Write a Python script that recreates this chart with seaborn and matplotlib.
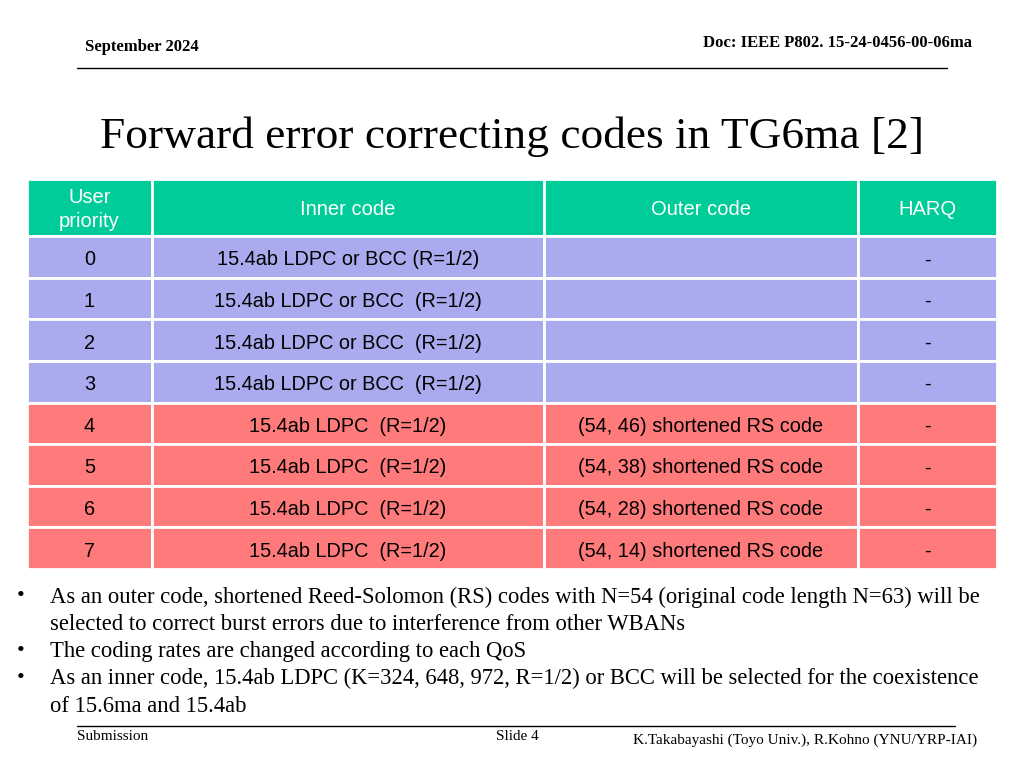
import matplotlib
matplotlib.use("Agg")
import matplotlib.pyplot as plt
import seaborn as sns

# Table data
header = ["User\npriority", "Inner code", "Outer code", "HARQ"]
priorities = ["0", "1", "2", "3", "4", "5", "6", "7"]
inner_codes = ["15.4ab LDPC or BCC (R=1/2)", "15.4ab LDPC or BCC  (R=1/2)",
               "15.4ab LDPC or BCC  (R=1/2)", "15.4ab LDPC or BCC  (R=1/2)",
               "15.4ab LDPC  (R=1/2)", "15.4ab LDPC  (R=1/2)",
               "15.4ab LDPC  (R=1/2)", "15.4ab LDPC  (R=1/2)"]
outer_codes = ["", "", "", "",
               "(54, 46) shortened RS code", "(54, 38) shortened RS code",
               "(54, 28) shortened RS code", "(54, 14) shortened RS code"]
harq = ["-"] * 8
row_group = ["low"] * 4 + ["high"] * 4

bullet_lines = [
    ["As an outer code, shortened Reed-Solomon (RS) codes with N=54 (original code length N=63) will be",
     "selected to correct burst errors due to interference from other WBANs"],
    ["The coding rates are changed according to each QoS"],
    ["As an inner code, 15.4ab LDPC (K=324, 648, 972, R=1/2) or BCC will be selected for the coexistence",
     "of 15.6ma and 15.4ab"],
]

sns.set_theme(style="white", rc={"text.color": "black"})
W, H = 1024, 768
fig = plt.figure(figsize=(10.24, 7.68), dpi=100)
serif = "Liberation Serif"
sans = "Liberation Sans"

# slide decorations
fig.text(85 / W, 1 - 47 / H, "September 2024", fontfamily=serif, fontweight="bold", fontsize=12, va="center")
fig.text(972 / W, 1 - 43 / H, "Doc: IEEE P802. 15-24-0456-00-06ma", fontfamily=serif, fontweight="bold",
         fontsize=12, va="center", ha="right")
fig.add_artist(plt.Line2D([77 / W, 947 / W], [1 - 68 / H] * 2, color="black", lw=1))
fig.text(512 / W, 1 - 137 / H, "Forward error correcting codes in TG6ma [2]", fontfamily=serif,
         fontsize=32.7, ha="center", va="center")

# table axes in pixel-like coordinates
ax = fig.add_axes([27 / W, 1 - 569 / H, 970 / W, 390 / H])
ax.set_xlim(27, 997)
ax.set_ylim(569, 179)
ax.axis("off")

col_edges = [27, 152, 544, 858, 997]
header_h = 57
row_h = (569 - 179 - header_h) / 8
colors = {"header": "#00CC99", "low": "#AAAAEE", "high": "#FF7B7B"}

for c in range(4):
    left, right = col_edges[c], col_edges[c + 1]
    ax.barh(179 + header_h / 2, right - left, left=left, height=header_h,
            color=colors["header"], edgecolor="white", linewidth=2)
    ax.text((left + right) / 2, 179 + header_h / 2 + 2, header[c], color="white", fontfamily=sans,
            fontsize=14.5, ha="center", va="center", linespacing=1.3)

for r in range(8):
    yc = 179 + header_h + row_h * (r + 0.5)
    vals = [priorities[r], inner_codes[r], outer_codes[r], harq[r]]
    for c in range(4):
        left, right = col_edges[c], col_edges[c + 1]
        ax.barh(yc, right - left, left=left, height=row_h,
                color=colors[row_group[r]], edgecolor="white", linewidth=2)
        ax.text((left + right) / 2, yc + 3, vals[c], fontfamily=sans, fontsize=14.3,
                ha="center", va="center", color="black")

# bullets
y = 597
for lines in bullet_lines:
    fig.text(17 / W, 1 - y / H, "\u2022", fontfamily=serif, fontsize=16, va="center")
    for line in lines:
        fig.text(50 / W, 1 - y / H, line, fontfamily=serif, fontsize=16.3, va="center")
        y += 27.3

# footer
fig.add_artist(plt.Line2D([77 / W, 955 / W], [1 - 726 / H] * 2, color="black", lw=1))
fig.text(77 / W, 1 - 737 / H, "Submission", fontfamily=serif, fontsize=11, va="center")
fig.text(517 / W, 1 - 737 / H, "Slide 4", fontfamily=serif, fontsize=11, va="center", ha="center")
fig.text(977 / W, 1 - 740 / H, "K.Takabayashi (Toyo Univ.), R.Kohno (YNU/YRP-IAI)", fontfamily=serif,
         fontsize=11, va="center", ha="right")

fig.savefig("out.png", dpi=100)
